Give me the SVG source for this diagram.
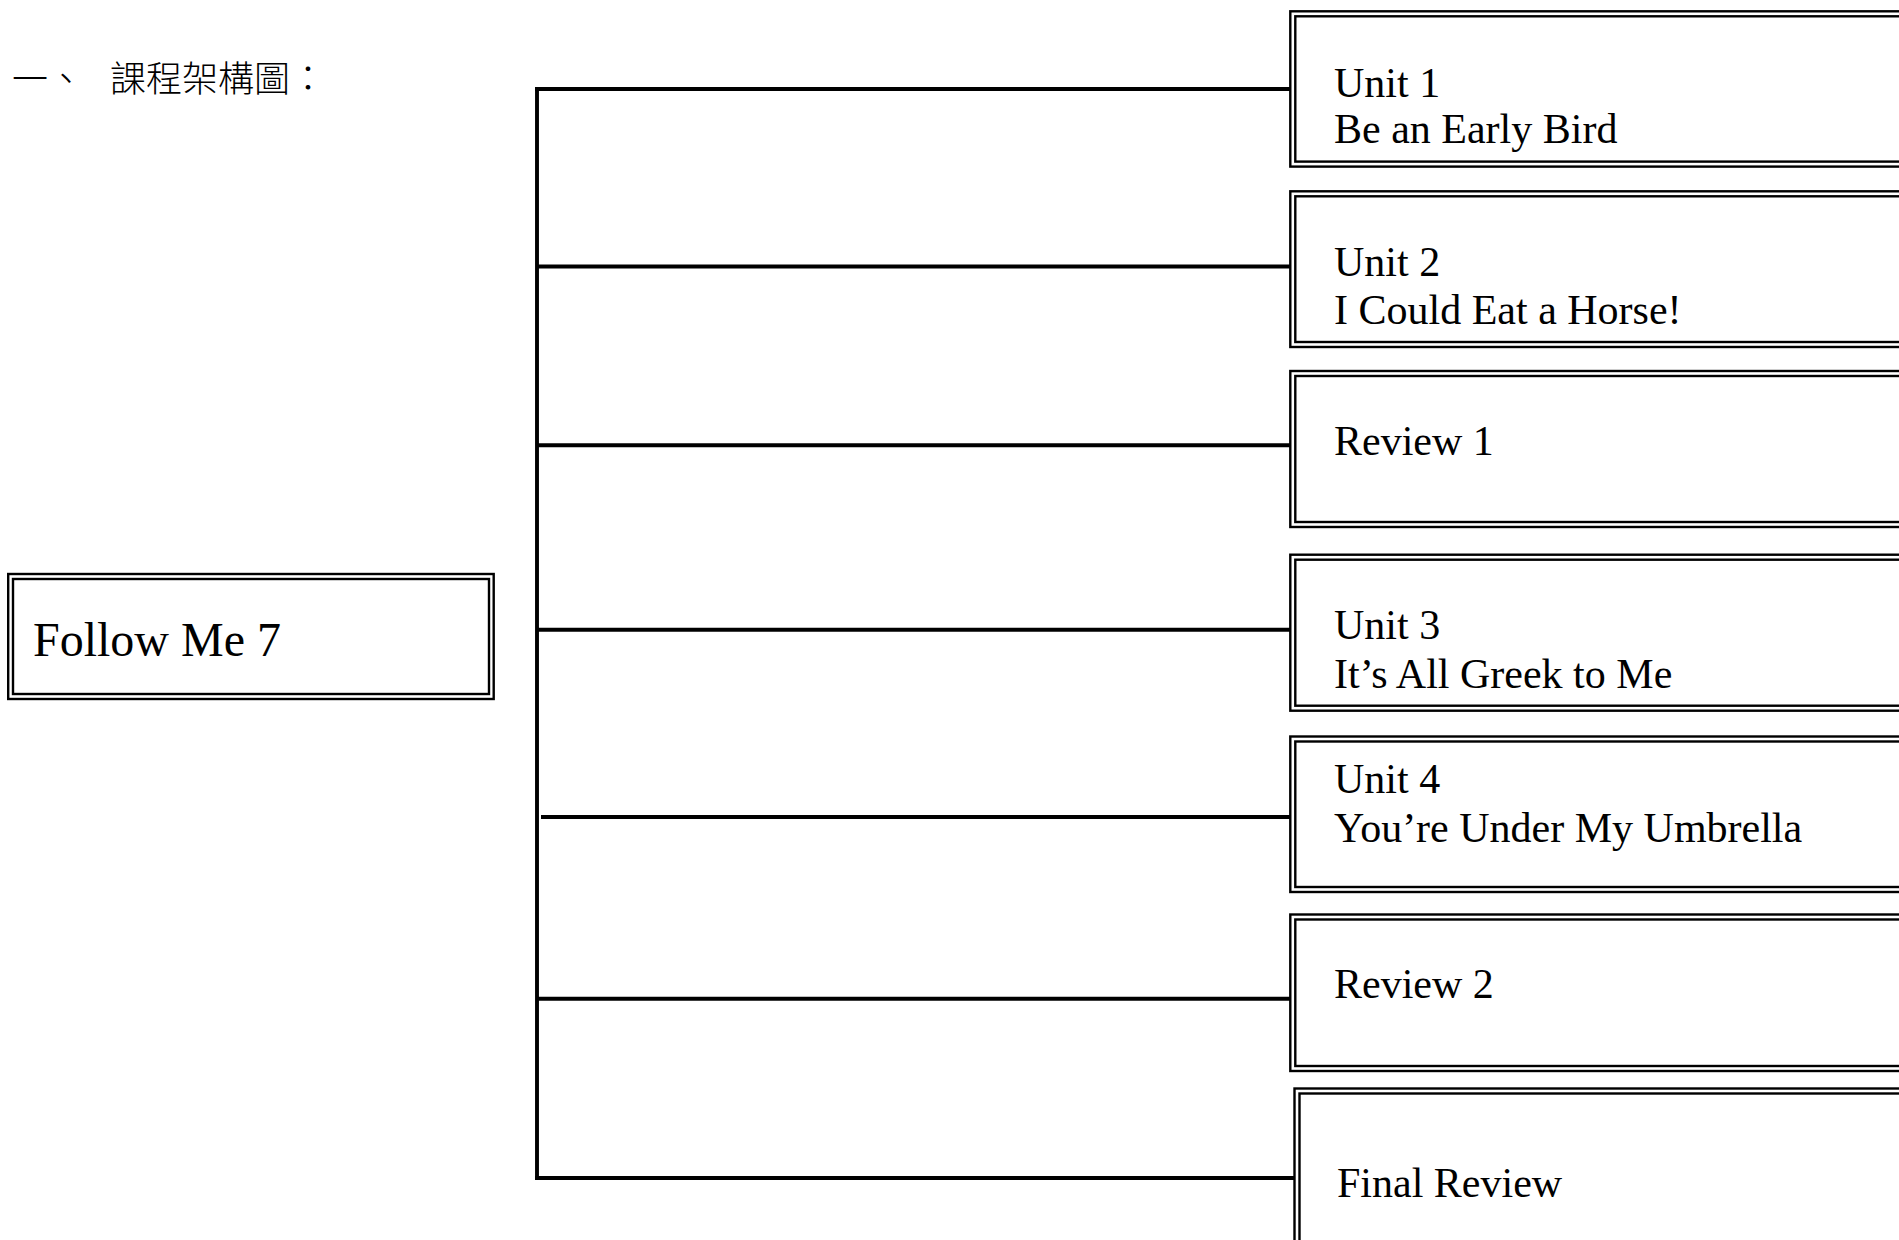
<svg xmlns="http://www.w3.org/2000/svg" width="1899" height="1240" viewBox="0 0 1899 1240">
<style>
.bg{fill:#ffffff}
.frame{fill:none;stroke:#000;stroke-width:2.4}
.conn{stroke:#000;stroke-width:3.9;fill:none}
.lbl{font-family:"Liberation Serif","Times New Roman",serif;font-size:42px;fill:#000}
.root{font-family:"Liberation Serif","Times New Roman",serif;font-size:48px;fill:#000}
.title{font-family:"Noto Sans CJK TC","Noto Sans CJK SC",sans-serif;font-size:36px;font-weight:300;fill:#000}
</style>
<rect class="bg" x="0" y="0" width="1899" height="1240"/>
<text class="title" y="92"><tspan x="12">一、</tspan><tspan x="110">課程架構圖：</tspan></text>
<g id="connectors">
<line class="conn" x1="537" y1="87.1" x2="537" y2="1179.9"/>
<line class="conn" x1="535.1" y1="89" x2="1290" y2="89"/>
<line class="conn" x1="537" y1="266.5" x2="1290" y2="266.5"/>
<line class="conn" x1="537" y1="445.3" x2="1290" y2="445.3"/>
<line class="conn" x1="537" y1="629.7" x2="1290" y2="629.7"/>
<line class="conn" x1="541" y1="817" x2="1290" y2="817"/>
<line class="conn" x1="537" y1="998.7" x2="1290" y2="998.7"/>
<line class="conn" x1="535.1" y1="1178" x2="1294" y2="1178"/>
</g>
<g id="root">
<rect class="frame" x="8.2" y="574" width="485.5" height="125"/>
<rect class="frame" x="13" y="579" width="476" height="115"/>
<text class="root" x="33" y="656">Follow Me 7</text>
</g>
<g id="unit1">
<rect class="frame" x="1290.3" y="11.3" width="640" height="155.3"/>
<rect class="frame" x="1295.3" y="16.3" width="640" height="145.3"/>
<text class="lbl"><tspan x="1334" y="96.8">Unit 1</tspan><tspan x="1334" y="142.8">Be an Early Bird</tspan></text>
</g>
<g id="unit2">
<rect class="frame" x="1290.3" y="191.3" width="640" height="155.7"/>
<rect class="frame" x="1295.3" y="196.3" width="640" height="145.7"/>
<text class="lbl"><tspan x="1334" y="275.5">Unit 2</tspan><tspan x="1334" y="324">I Could Eat a Horse!</tspan></text>
</g>
<g id="review1">
<rect class="frame" x="1290.3" y="371" width="640" height="156"/>
<rect class="frame" x="1295.3" y="376" width="640" height="146"/>
<text class="lbl" x="1334" y="455">Review 1</text>
</g>
<g id="unit3">
<rect class="frame" x="1290.3" y="554.7" width="640" height="156"/>
<rect class="frame" x="1295.3" y="559.7" width="640" height="146"/>
<text class="lbl"><tspan x="1334" y="639">Unit 3</tspan><tspan x="1334" y="687.7">It’s All Greek to Me</tspan></text>
</g>
<g id="unit4">
<rect class="frame" x="1290.3" y="736.5" width="640" height="155.5"/>
<rect class="frame" x="1295.3" y="741.5" width="640" height="145.5"/>
<text class="lbl"><tspan x="1334" y="793.3">Unit 4</tspan><tspan x="1334" y="841.7">You’re Under My Umbrella</tspan></text>
</g>
<g id="review2">
<rect class="frame" x="1290.3" y="914.5" width="640" height="156.5"/>
<rect class="frame" x="1295.3" y="919.5" width="640" height="146.5"/>
<text class="lbl" x="1334" y="997.7">Review 2</text>
</g>
<g id="finalreview">
<rect class="frame" x="1294.5" y="1088.5" width="640" height="200"/>
<rect class="frame" x="1299.5" y="1093.5" width="640" height="190"/>
<text class="lbl" x="1337" y="1196.7">Final Review</text>
</g>
</svg>
